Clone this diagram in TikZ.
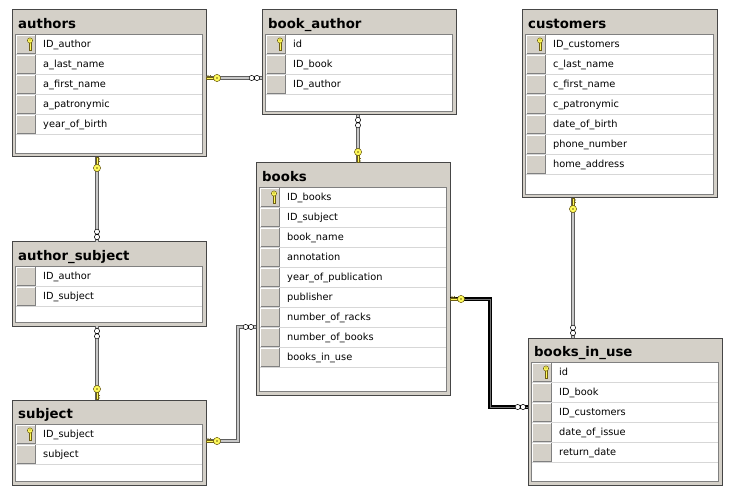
\documentclass[tikz,border=0pt]{standalone}
\usepackage{fontspec}
\setmainfont{DejaVu Sans}
\definecolor{winbg}{RGB}{212,208,200}
\definecolor{framec}{RGB}{70,70,70}
\definecolor{btndark}{RGB}{128,128,128}
\definecolor{sepc}{RGB}{215,215,215}
\definecolor{innerc}{RGB}{128,128,128}
\definecolor{keyy}{RGB}{255,250,90}
\definecolor{keyo}{RGB}{110,95,20}
\definecolor{conngray}{RGB}{95,95,95}
\definecolor{connlight}{RGB}{200,200,200}
\tikzset{
  tbl/.style={draw=framec, fill=winbg, line width=1pt, inner sep=0pt, outer sep=0pt, anchor=north west, rectangle},
  rowtext/.style={font=\fontsize{9.8}{11}\selectfont, inner sep=0pt, anchor=base west},
  titletext/.style={font=\fontsize{13.3}{15}\selectfont\bfseries, inner sep=0pt, anchor=base west},
  conn/.style={draw=conngray, double=connlight, line width=0.9pt, double distance=1.8pt},
  boldconn/.style={draw=black, double=black!55, line width=1.5pt, double distance=0.7pt},
  dirR/.style={x={(1pt,0pt)},y={(0pt,1pt)}},
  dirL/.style={x={(-1pt,0pt)},y={(0pt,1pt)}},
  dirD/.style={x={(0pt,-1pt)},y={(1pt,0pt)}},
  dirU/.style={x={(0pt,1pt)},y={(1pt,0pt)}},
}
% #1 name, #2 x, #3 y, #4 w, #5 h, #6 title, #7 key flag, #8 rows
\newcommand\dbtable[8]{%
  \node[tbl, minimum width=#4pt, minimum height=#5pt] (#1) at (#2,#3) {};
  \node[titletext] (#1-title) at (#2+6,#3+18.5) {#6};
  \draw[innerc, fill=white, line width=0.8pt] (#2+3.5,#3+24) rectangle (#2+#4-3.5,#3+#5-3.5);
  \foreach \f [count=\i from 0] in {#8}{%
    \pgfmathsetmacro\ry{#3+24+20*\i}
    \fill[winbg] (#2+4.5,\ry+1) rectangle (#2+23.5,\ry+19);
    \draw[white, line width=0.7pt] (#2+4.5,\ry+19) -- (#2+4.5,\ry+1) -- (#2+23.5,\ry+1);
    \draw[btndark, line width=0.9pt] (#2+4.5,\ry+19) -- (#2+23.5,\ry+19) -- (#2+23.5,\ry+1);
    \draw[sepc, line width=0.7pt] (#2+4,\ry+20) -- (#2+#4-4,\ry+20);
    \node[rowtext] (#1-r\i) at (#2+31,\ry+13.5) {\f};
  }
  \ifnum#7=1
    \draw[keyo, fill=keyy, line width=0.4pt] (#2+17.2,#3+24+8) rectangle (#2+18.8,#3+24+16);
    \draw[keyo, line width=0.5pt] (#2+18.8,#3+24+12.5) -- (#2+20.3,#3+24+12.5) (#2+18.8,#3+24+14.5) -- (#2+20.3,#3+24+14.5);
    \draw[keyo, fill=keyy, line width=0.5pt] (#2+18,#3+24+6.5) circle (2.6);
    \fill[keyo] (#2+18,#3+24+6) circle (0.7);
  \fi
}
\newcommand\keyend[2]{%
  \begin{scope}[shift={#1},#2]
    \draw[keyo, fill=keyy, line width=0.4pt] (0.5,-1.1) rectangle (8,1.1);
    \draw[keyo, line width=0.5pt] (1,1.1) -- (2,2.6) -- (3,1.1) (3.4,1.1) -- (4.4,2.6) -- (5.4,1.1);
    \draw[keyo, fill=keyy, line width=0.5pt] (11,0) circle (3.6);
    \fill[keyo] (11,0) circle (0.9);
  \end{scope}}
\newcommand\infend[2]{%
  \begin{scope}[shift={#1},#2]
    \draw[black, fill=white, line width=0.5pt] (5,0) circle (2.6) (10.3,0) circle (2.6);
  \end{scope}}
\begin{document}
\begin{tikzpicture}[x=1pt,y=-1pt]
\useasboundingbox[fill=white] (0,0) rectangle (731,497);

\dbtable{authors}{12}{10}{194}{147}{authors}{1}{ID\_author,a\_last\_name,a\_first\_name,a\_patronymic,year\_of\_birth}
\dbtable{book_author}{262}{10}{194}{105}{book\_author}{1}{id,ID\_book,ID\_author}
\dbtable{customers}{522}{10}{195}{188}{customers}{1}{ID\_customers,c\_last\_name,c\_first\_name,c\_patronymic,date\_of\_birth,phone\_number,home\_address}
\dbtable{author_subject}{12}{242}{194}{84}{author\_subject}{0}{ID\_author,ID\_subject}
\dbtable{subject}{12}{400}{194}{85}{subject}{1}{ID\_subject,subject}
\dbtable{books}{256}{163}{194}{232}{books}{1}{ID\_books,ID\_subject,book\_name,annotation,year\_of\_publication,publisher,number\_of\_racks,number\_of\_books,books\_in\_use}
\dbtable{books_in_use}{528}{338}{194}{147}{books\_in\_use}{1}{id,ID\_book,ID\_customers,date\_of\_issue,return\_date}

% helper coordinates
\coordinate (h1) at (0,78);
\coordinate (v2) at (358,0);
\coordinate (v3) at (97,0);
\coordinate (h5a) at (0,327);
\coordinate (h5b) at (0,441);
\coordinate (v5) at (238,0);
\coordinate (h6a) at (0,299);
\coordinate (h6b) at (0,407);
\coordinate (v6) at (490,0);
\coordinate (v7) at (573,0);

% connectors
\draw[conn] (authors.east |- h1) -- (book_author.west |- h1);
\draw[conn] (book_author.south -| v2) -- (books.north -| v2);
\draw[conn] (authors.south -| v3) -- (author_subject.north -| v3);
\draw[conn] (author_subject.south -| v3) -- (subject.north -| v3);
\draw[conn] (books.west |- h5a) -| (v5 |- h5b) -- (subject.east |- h5b);
\draw[boldconn] (books.east |- h6a) -| (v6 |- h6b) -- (books_in_use.west |- h6b);
\draw[conn] (customers.south -| v7) -- (books_in_use.north -| v7);

% ends
\keyend{(authors.east |- h1)}{dirR}
\infend{(book_author.west |- h1)}{dirL}
\infend{(book_author.south -| v2)}{dirD}
\keyend{(books.north -| v2)}{dirU}
\keyend{(authors.south -| v3)}{dirD}
\infend{(author_subject.north -| v3)}{dirU}
\infend{(author_subject.south -| v3)}{dirD}
\keyend{(subject.north -| v3)}{dirU}
\infend{(books.west |- h5a)}{dirL}
\keyend{(subject.east |- h5b)}{dirR}
\keyend{(books.east |- h6a)}{dirR}
\infend{(books_in_use.west |- h6b)}{dirL}
\keyend{(customers.south -| v7)}{dirD}
\infend{(books_in_use.north -| v7)}{dirU}
\end{tikzpicture}
\end{document}
